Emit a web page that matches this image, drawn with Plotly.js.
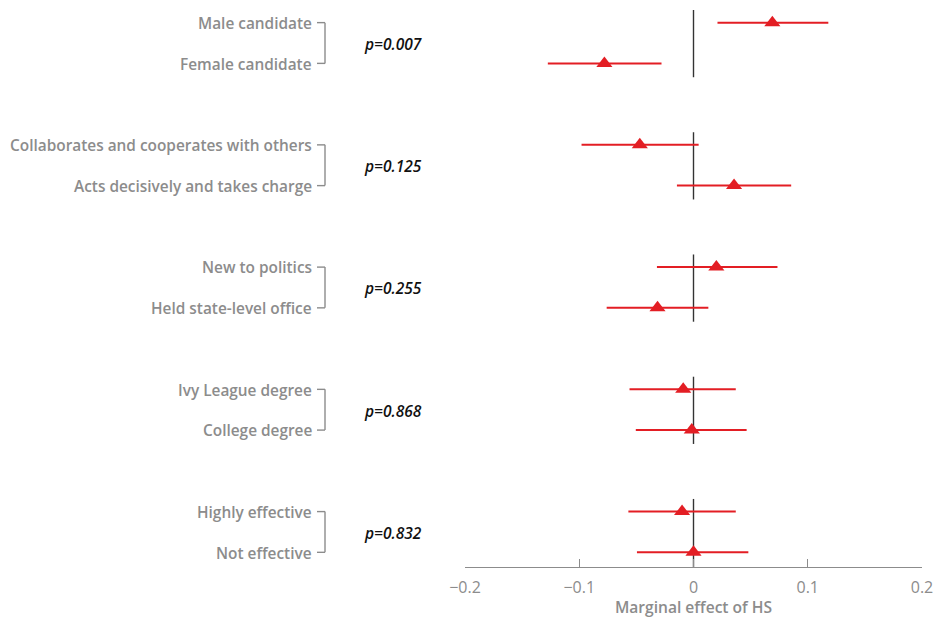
<!DOCTYPE html>
<html>
<head>
<meta charset="utf-8">
<script src="https://cdn.plot.ly/plotly-3.0.1.min.js"></script>
<style>
  html, body { margin: 0; padding: 0; background: #fff; }
  #chart { width: 938px; height: 618px; }
</style>
</head>
<body>
<div id="chart"></div>
<script>
// Attribute pairs, shown two per group
const labels = [
  "Male candidate", "Female candidate",
  "Collaborates and cooperates with others", "Acts decisively and takes charge",
  "New to politics", "Held state-level office",
  "Ivy League degree", "College degree",
  "Highly effective", "Not effective"
];
// Marginal effect of HS and its confidence interval
const estimates = [0.069, -0.078, -0.047, 0.0355, 0.020, -0.0315, -0.009, -0.0015, -0.010, 0.000];
const ciLow     = [0.021, -0.1275, -0.098, -0.0145, -0.032, -0.076, -0.056, -0.0505, -0.057, -0.0495];
const ciHigh    = [0.118, -0.028, 0.0045, 0.0855, 0.0735, 0.013, 0.037, 0.0465, 0.037, 0.048];
// Difference test within each pair
const pValues = ["p=0.007", "p=0.125", "p=0.255", "p=0.868", "p=0.832"];
const xTicks = [-0.2, -0.1, 0, 0.1, 0.2];

const RED = "#e31e24";
const GREY = "#8c8c8c";

// vertical layout: two rows per group, one empty row between groups
const rowY = labels.map((_, i) => -(3 * Math.floor(i / 2) + (i % 2)));

const M = { l: 465, r: 16, t: 10, b: 51 };
const W = 938, H = 618;
const plotW = W - M.l - M.r;
const toPaperX = px => (px - M.l) / plotW;

// zero reference line, drawn as one segment per group
const zx = [], zy = [];
for (let g = 0; g < pValues.length; g++) {
  const top = rowY[2 * g] + 0.31;
  const bot = g === pValues.length - 1 ? -13.36 : rowY[2 * g + 1] - 0.34;
  zx.push(0, 0, null);
  zy.push(top, bot, null);
}

const traces = [
  {
    x: zx, y: zy, mode: "lines", type: "scatter",
    line: { color: "#333333", width: 1.4 },
    hoverinfo: "skip", showlegend: false
  },
  {
    x: estimates, y: rowY, type: "scatter", mode: "markers",
    marker: { symbol: "triangle-up", size: 14, color: RED },
    error_x: {
      type: "data", symmetric: false,
      array: estimates.map((v, i) => ciHigh[i] - v),
      arrayminus: estimates.map((v, i) => v - ciLow[i]),
      color: RED, thickness: 2, width: 0
    },
    showlegend: false
  }
];

const annotations = [];
const shapes = [];
const labelFont = { family: "Open Sans, sans-serif", size: 15.4, color: GREY, weight: 600 };

labels.forEach((t, i) => {
  annotations.push({
    x: toPaperX(314), xref: "paper", y: rowY[i] - 0.02, yref: "y",
    text: t, showarrow: false, xanchor: "right", yanchor: "middle",
    font: labelFont
  });
  shapes.push({
    type: "line", xref: "paper", yref: "y",
    x0: toPaperX(317), x1: toPaperX(325), y0: rowY[i], y1: rowY[i],
    line: { color: GREY, width: 1.4 }
  });
});

pValues.forEach((p, g) => {
  const y0 = rowY[2 * g], y1 = rowY[2 * g + 1];
  shapes.push({
    type: "line", xref: "paper", yref: "y",
    x0: toPaperX(325), x1: toPaperX(325), y0: y0, y1: y1,
    line: { color: GREY, width: 1.4 }
  });
  annotations.push({
    x: toPaperX(424), xref: "paper", y: (y0 + y1) / 2 - 0.02, yref: "y",
    text: p, showarrow: false, xanchor: "right", yanchor: "middle",
    font: { family: "Open Sans, sans-serif", size: 15.5, color: "#111111", style: "italic", weight: 600 }
  });
});

const layout = {
  width: W, height: H,
  margin: M,
  paper_bgcolor: "#ffffff", plot_bgcolor: "#ffffff",
  showlegend: false,
  xaxis: {
    range: [-0.2, 0.2],
    tickvals: xTicks,
    ticktext: xTicks.map(v => v === 0 ? "0" : (v < 0 ? "\u2212" : "") + Math.abs(v).toFixed(1)),
    ticks: "inside", ticklen: 8, tickwidth: 1.4, tickcolor: GREY,
    ticklabelstandoff: 5,
    showline: true, linecolor: GREY, linewidth: 1.4,
    showgrid: false, zeroline: false,
    tickfont: { family: "Open Sans, sans-serif", size: 16, color: GREY, weight: 500 },
    title: { text: "Marginal effect of HS", standoff: 2,
             font: { family: "Open Sans, sans-serif", size: 15.6, color: GREY, weight: 600 } }
  },
  yaxis: {
    range: [-13.36, 0.31],
    visible: false, showgrid: false, zeroline: false, fixedrange: true
  },
  annotations: annotations,
  shapes: shapes
};

Plotly.newPlot("chart", traces, layout, { displayModeBar: false, staticPlot: true });
</script>
</body>
</html>
